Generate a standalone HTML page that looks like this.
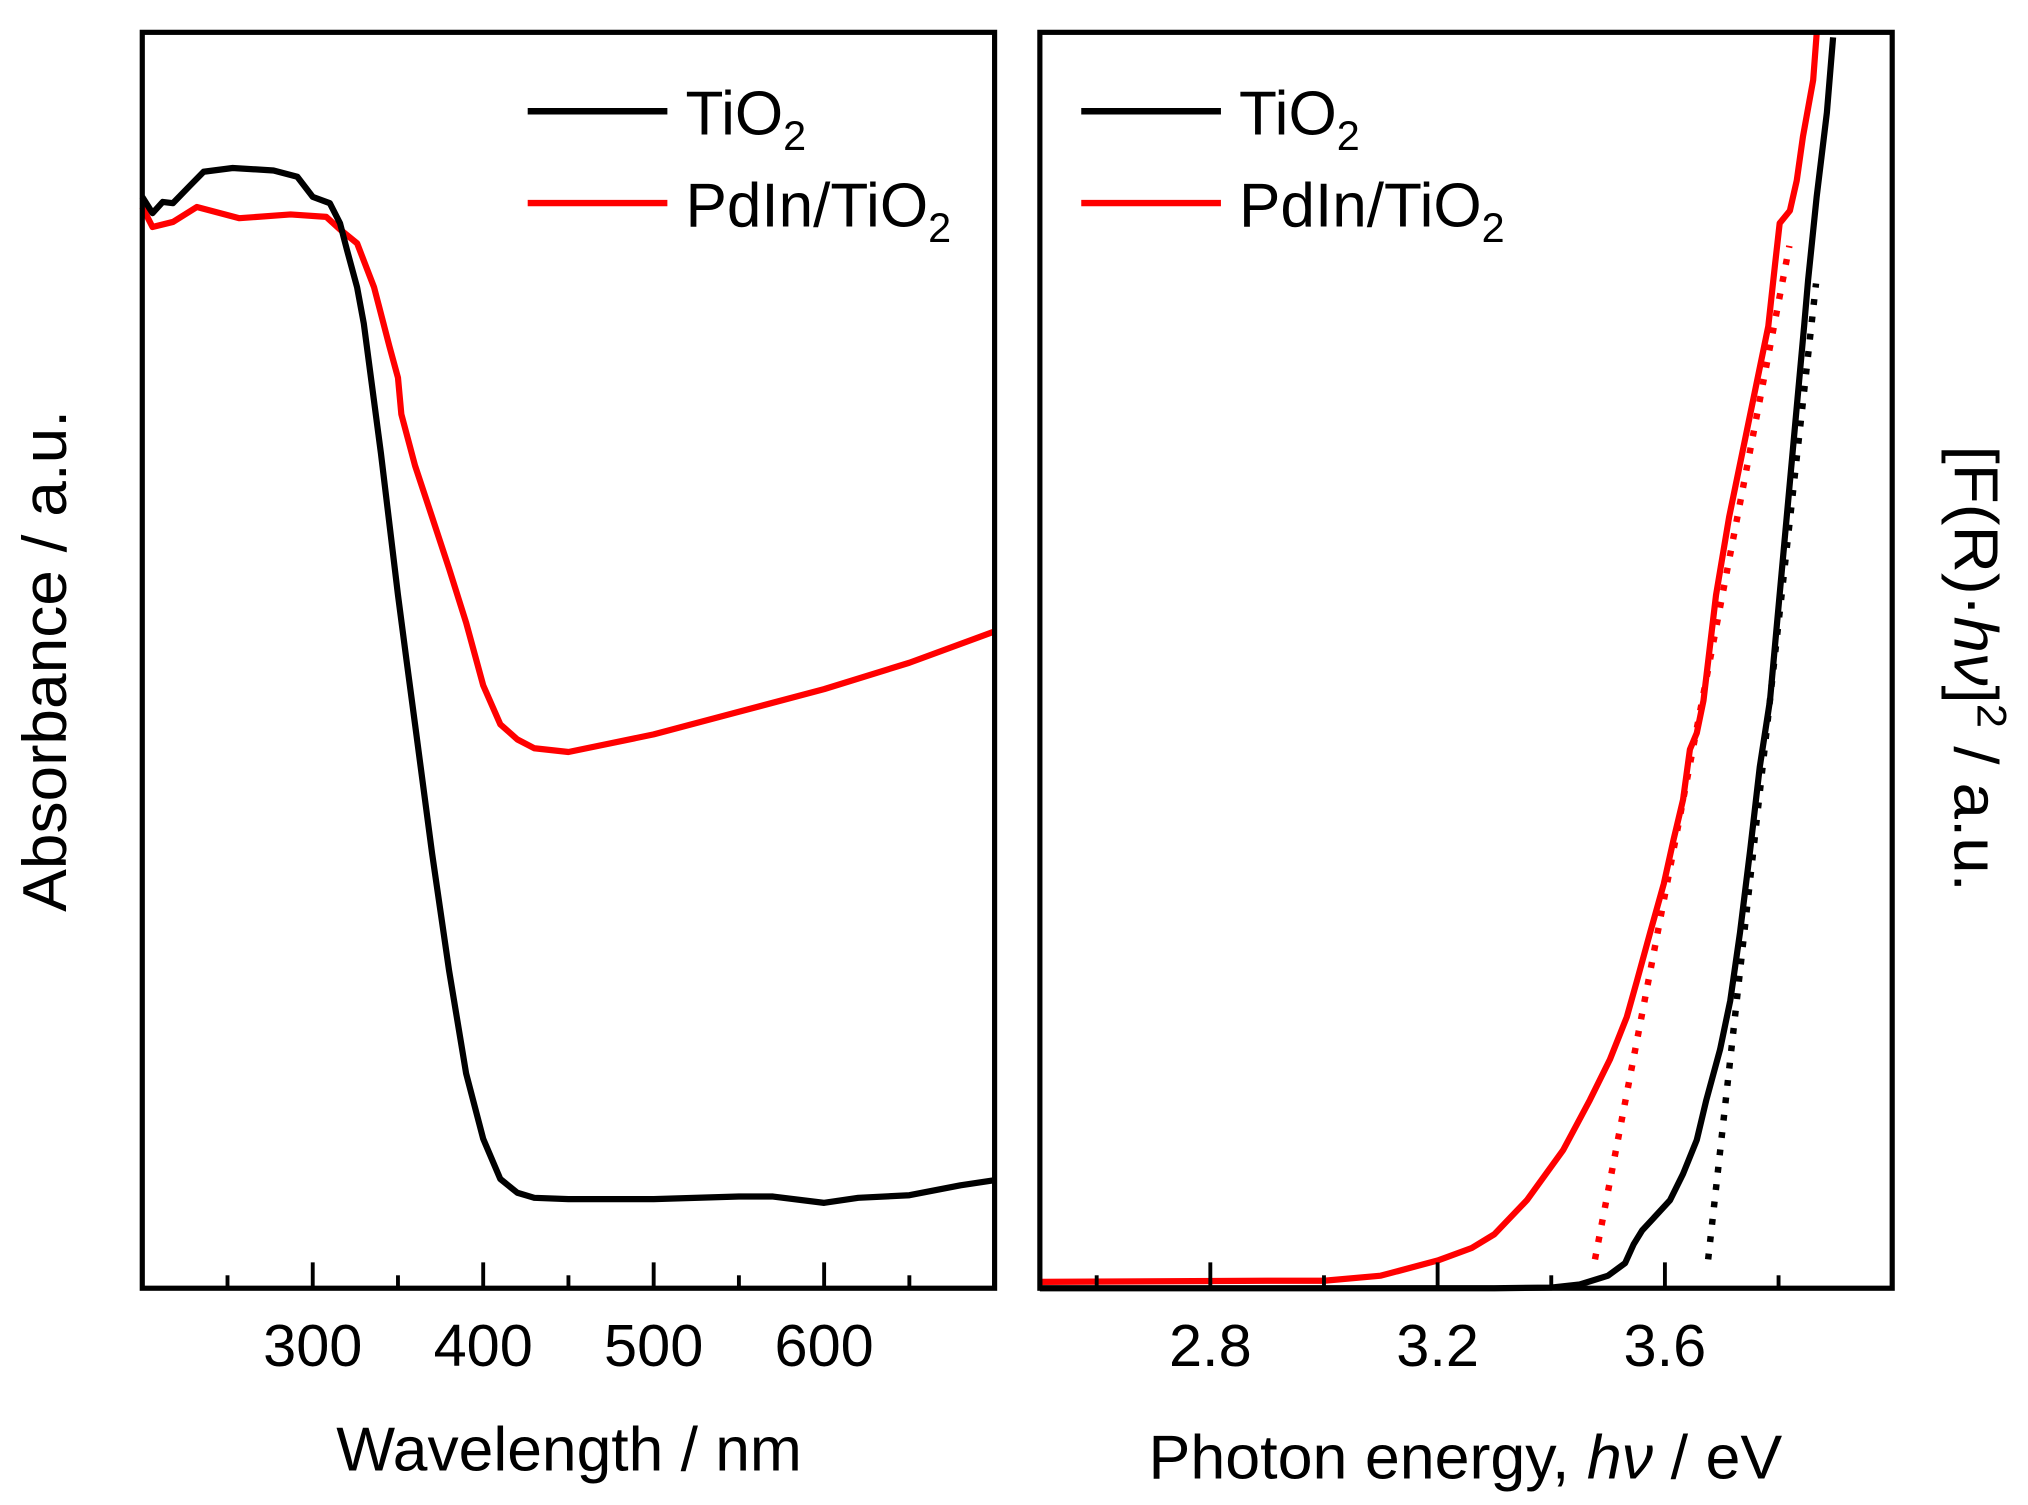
<!DOCTYPE html>
<html><head><meta charset="utf-8"><style>
html,body{margin:0;padding:0;background:#fff;}
svg{display:block;font-family:"Liberation Sans",sans-serif;}
</style></head><body>
<svg id="chart" width="2028" height="1505" viewBox="0 0 1568 1163.6" preserveAspectRatio="none" xmlns="http://www.w3.org/2000/svg">
<g id="left"></g>
<g id="right"></g>
<text x="440" y="1137" font-size="48" text-anchor="middle" textLength="360" lengthAdjust="spacingAndGlyphs">Wavelength / nm</text>
<text x="1133" y="1143" font-size="48" text-anchor="middle" textLength="490" lengthAdjust="spacingAndGlyphs">Photon energy, <tspan font-style="italic">hν</tspan> / eV</text>
<text transform="translate(51,511) rotate(-90)" font-size="48" text-anchor="middle" textLength="388" lengthAdjust="spacingAndGlyphs">Absorbance / a.u.</text>
<text transform="translate(1511,517) rotate(90)" font-size="48" text-anchor="middle" textLength="345" lengthAdjust="spacingAndGlyphs">[F(R)·<tspan font-style="italic">hν</tspan>]<tspan font-size="32" dy="-18">2</tspan><tspan dy="18"> / a.u.</tspan></text>
</svg>
<script>
const wlBlack=[200,206,212,218,228,236,253,277,291,300,310,316,320,326,330,340,350,355,360,370,380,390,400,410,420,430,450,500,550,570,600,620,650,680,700];
const absBlack=[86.9,85.6,86.5,86.4,87.8,88.9,89.2,89.0,88.5,86.9,86.4,84.8,82.7,79.7,76.8,66.5,55.2,50,44.9,34.6,25.3,17.1,11.9,8.7,7.6,7.2,7.1,7.1,7.3,7.3,6.8,7.2,7.4,8.2,8.6];
const wlRed=[200,206,218,232,257,287,308,316,326,336,345,350,352,360,370,380,390,400,410,420,430,450,500,550,600,650,700];
const absRed=[86.1,84.5,84.9,86.1,85.2,85.5,85.3,84.3,83.2,79.7,75,72.5,69.6,65.5,61.4,57.3,53,48,44.9,43.7,43,42.7,44.1,45.9,47.7,49.8,52.3];
const eBlack=[2.5,3.3,3.4,3.45,3.5,3.53,3.545,3.56,3.609,3.632,3.656,3.673,3.697,3.715,3.732,3.75,3.767,3.785,3.845,3.852,3.867,3.885,3.896];
const fBlack=[0,0,0.05,0.3,1.0,2.0,3.5,4.6,7.0,9.1,11.8,15.0,19.0,22.9,28.3,34.9,41.5,46.8,76.6,80.3,86.9,93.6,99.6];
const eRed=[2.5,2.9,3.0,3.1,3.2,3.26,3.3,3.357,3.421,3.468,3.503,3.533,3.551,3.574,3.598,3.615,3.632,3.644,3.656,3.668,3.69,3.713,3.782,3.794,3.802,3.82,3.832,3.843,3.861,3.867];
const fRed=[0.5,0.6,0.6,1.0,2.2,3.2,4.3,7.0,11.0,15.0,18.2,21.6,24.5,28.3,32.2,35.7,38.9,42.9,44.2,46.8,55.2,61.4,76.6,81.6,84.8,85.8,88.2,91.7,96.2,99.9];
const fitBlackE=[3.676,3.866];const fitBlackF=[2.3,80];
const fitRedE=[3.477,3.819];const fitRedF=[2.3,83];
const leftTicks=[300,400,500,600];const leftMinor=[250,350,450,550,650];
const rightTicks=[2.8,3.2,3.6];const rightMinor=[2.6,3.0,3.4,3.8];
const NS="http://www.w3.org/2000/svg";
const Y0=996,Y1=25;
function yS(v){return Y0-(v/100)*(Y0-Y1);}
function xL(w){return 110+(w-200)/500*659;}
function xR(e){return 804+(e-2.5)/1.5*659;}
function mk(p,tag,at){const el=document.createElementNS(NS,tag);for(const k in at)el.setAttribute(k,at[k]);p.appendChild(el);return el;}
function path(p,xs,ys,fx,col,name,dash){
  let d=xs.map((x,i)=>(i?'L':'M')+fx(x).toFixed(1)+','+yS(ys[i]).toFixed(1)).join('');
  const el=mk(p,'path',{d:d,fill:'none',stroke:col,'stroke-width':dash?5:4.8,'stroke-linejoin':'round'});
  if(dash)el.setAttribute('stroke-dasharray',dash);
  
  
}
function panel(g,x0,fx,maj,minr,labels,legX,pre){
  for(const t of maj){const x=fx(t);const l=mk(g,'line',{x1:x,x2:x,y1:Y0,y2:Y0-20,stroke:'#000','stroke-width':3});
    
    const tx=mk(g,'text',{x:x,y:1056,'font-size':46,'text-anchor':'middle'});tx.textContent=labels(t);
    }
  for(const t of minr){const x=fx(t);const l=mk(g,'line',{x1:x,x2:x,y1:Y0,y2:Y0-10,stroke:'#000','stroke-width':3});
    }
  const leg=[['TiO','#000',86,112],['PdIn/TiO','#f00',157,183]];
  for(const [t,c,y,by] of leg){
    const l=mk(g,'line',{x1:legX,x2:legX+108,y1:y,y2:y,stroke:c,'stroke-width':5});
    
    const tx=mk(g,'text',{x:legX+122,y:by-8,'font-size':48});
    tx.innerHTML=t+'<tspan font-size="32" dy="12">2</tspan>';
    }
}
const L=document.getElementById('left'),R=document.getElementById('right');
path(L,wlRed,absRed,xL,'#f00','left-pdin-tio2-line');
path(L,wlBlack,absBlack,xL,'#000','left-tio2-line');
panel(L,110,xL,leftTicks,leftMinor,t=>String(t),408,'left');
path(R,fitRedE,fitRedF,xR,'#f00','pdin-tio2-fit-line','4.5 9');
path(R,fitBlackE,fitBlackF,xR,'#000','tio2-fit-line','4.5 9');
path(R,eBlack,fBlack,xR,'#000','right-tio2-line');
path(R,eRed,fRed,xR,'#f00','right-pdin-tio2-line');
panel(R,804,xR,rightTicks,rightMinor,t=>t.toFixed(1),836,'right');
const f1=mk(L,'rect',{x:110,y:25,width:659,height:971,fill:'none',stroke:'#000','stroke-width':4});

const f2=mk(R,'rect',{x:804,y:25,width:659,height:971,fill:'none',stroke:'#000','stroke-width':4});

</script>
</body></html>
